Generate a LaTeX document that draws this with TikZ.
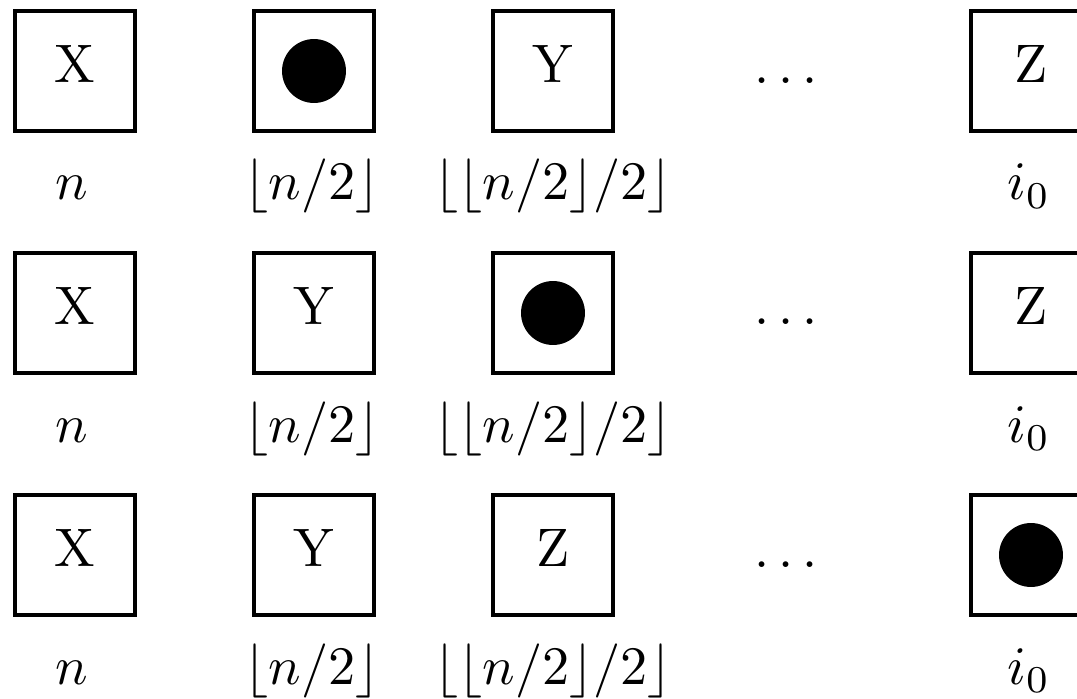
\documentclass[tikz,border=0pt]{standalone}
\begin{document}
\begin{tikzpicture}[x=0.1845pt,y=-0.1845pt,
  cell/.style={draw,line width=0.75pt,minimum size=22.3pt,inner sep=0pt,text height=7pt,text depth=2.6pt},
  ball/.style={circle,fill=black,minimum size=11.8pt,inner sep=0pt},
  lbl/.style={anchor=base,inner sep=0pt},
  gap/.style={anchor=base,inner sep=0pt}]
\useasboundingbox (0,0) rectangle (1077,699);
\clip (0,0) rectangle (1077,699);
% row 1
\node[cell] (a1) at (75,71) {X};
\node[cell] (b1) at (314,71) {};
\node[ball] (b1d) at (b1.center) {};
\node[cell] (c1) at (553,71) {Y};
\node[gap] (d1) at (786,83) {$\dots$};
\node[cell] (e1) at (1031,71) {Z};
\node[lbl] (la1) at (72,200) {$n$};
\node[lbl] (lb1) at (312,200) {$\lfloor n/2\rfloor$};
\node[lbl] (lc1) at (553,200) {$\lfloor\lfloor n/2\rfloor/2\rfloor$};
\node[lbl] (le1) at (1029,200) {$i_0$};
% row 2
\node[cell] (a2) at (75,313) {X};
\node[cell] (b2) at (314,313) {Y};
\node[cell] (c2) at (553,313) {};
\node[ball] (c2d) at (c2.center) {};
\node[gap] (d2) at (786,325) {$\dots$};
\node[cell] (e2) at (1031,313) {Z};
\node[lbl] (la2) at (72,442) {$n$};
\node[lbl] (lb2) at (312,442) {$\lfloor n/2\rfloor$};
\node[lbl] (lc2) at (553,442) {$\lfloor\lfloor n/2\rfloor/2\rfloor$};
\node[lbl] (le2) at (1029,442) {$i_0$};
% row 3
\node[cell] (a3) at (75,555) {X};
\node[cell] (b3) at (314,555) {Y};
\node[cell] (c3) at (553,555) {Z};
\node[gap] (d3) at (786,567) {$\dots$};
\node[cell] (e3) at (1031,555) {};
\node[ball] (e3d) at (e3.center) {};
\node[lbl] (la3) at (72,684) {$n$};
\node[lbl] (lb3) at (312,684) {$\lfloor n/2\rfloor$};
\node[lbl] (lc3) at (553,684) {$\lfloor\lfloor n/2\rfloor/2\rfloor$};
\node[lbl] (le3) at (1029,684) {$i_0$};
\end{tikzpicture}
\end{document}
